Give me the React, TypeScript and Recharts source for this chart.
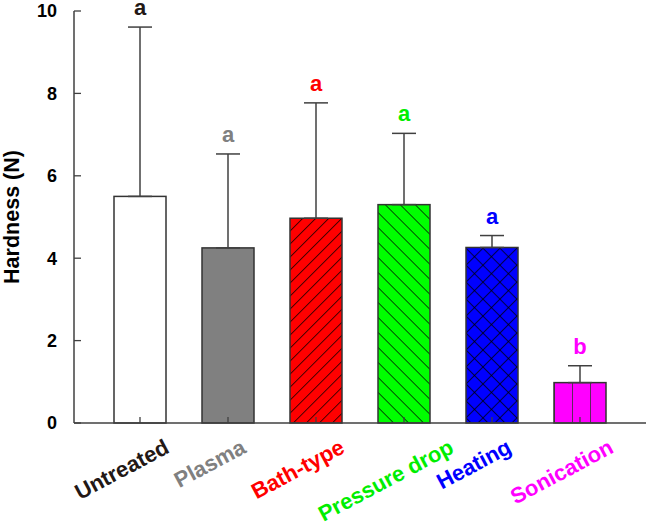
import { ComposedChart, Bar, Line, XAxis, YAxis, ErrorBar, LabelList } from "recharts";

const categories = ["Untreated", "Plasma", "Bath-type", "Pressure drop", "Heating", "Sonication"];
const hardness = [5.5, 4.25, 4.97, 5.3, 4.26, 0.98];
const stdDev = [4.11, 2.28, 2.8, 1.73, 0.29, 0.41];
const letters = ["a", "a", "a", "a", "a", "b"];
const labelColors = ["#231815", "#808080", "#ff0000", "#00ee00", "#0000ff", "#ff00ff"];
const barFills = ["#ffffff", "#808080", "#ff0000", "#00ff00", "#0000ff", "#ff00ff"];
const hatches = ["none", "none", "fwd", "back", "cross", "vert"];
const yTicks = [0, 2, 4, 6, 8, 10];

const FONT = "'Liberation Sans', Arial, sans-serif";
const AXIS = "#404040";

// Arial Bold advance widths (1/1000 em), used to centre the rotated tick labels
const charWidths: Record<string, number> = {
  " ": 278, "-": 333, P: 667, B: 722, U: 722, H: 722, S: 667, a: 556, c: 556, d: 611,
  e: 556, g: 611, h: 611, i: 278, l: 278, m: 889, n: 611, o: 611, p: 611, r: 389,
  s: 556, t: 333, u: 611, y: 556,
};
const textWidth = (s: string, size: number) =>
  (s.split("").reduce((sum, ch) => sum + (charWidths[ch] ?? 556), 0) / 1000) * size;

const data = categories.map((name, i) => ({
  name,
  hardness: hardness[i],
  err: [0, stdDev[i]],
  top: hardness[i] + stdDev[i],
  letter: letters[i],
}));

function HatchBar(props: any) {
  const { x, y, width, height, index } = props;
  const kind = hatches[index];
  const id = `hatch-${index}`;
  let pattern = null;
  if (kind === "fwd" || kind === "back") {
    const s = kind === "fwd" ? 9.2 : 10.6;
    pattern = (
      <pattern id={id} patternUnits="userSpaceOnUse" width={s} height={s}
        patternTransform={`rotate(${kind === "fwd" ? 45 : -45})`}>
        <line x1={0} y1={0} x2={0} y2={s} stroke="#000" strokeWidth={1.4} />
      </pattern>
    );
  } else if (kind === "cross") {
    pattern = (
      <pattern id={id} patternUnits="userSpaceOnUse" width={12} height={12}
        patternTransform={`translate(${x},${y}) rotate(45)`}>
        <line x1={0} y1={0} x2={0} y2={12} stroke="#000" strokeWidth={1.4} />
        <line x1={0} y1={0} x2={12} y2={0} stroke="#000" strokeWidth={1.4} />
      </pattern>
    );
  } else if (kind === "vert") {
    pattern = (
      <pattern id={id} patternUnits="userSpaceOnUse" width={18} height={18}
        patternTransform={`translate(${x},0)`}>
        <line x1={0} y1={0} x2={0} y2={18} stroke="#333" strokeWidth={1.6} />
      </pattern>
    );
  }
  return (
    <g>
      {pattern && <defs>{pattern}</defs>}
      <rect x={x} y={y} width={width} height={height} fill={barFills[index]} />
      {pattern && <rect x={x} y={y} width={width} height={height} fill={`url(#${id})`} />}
      <rect x={x} y={y} width={width} height={height} fill="none" stroke="#333" strokeWidth={1.5} />
    </g>
  );
}

function XTick(props: any) {
  const { x, y, payload, index } = props;
  const size = 22;
  const angle = 28;
  const rad = (angle * Math.PI) / 180;
  const len = textWidth(String(payload.value), size);
  const ascent = 0.72 * size;
  // rotated box: horizontally centred a little left of the tick, top 15px below the axis
  const tx = x - 11 - (ascent * Math.sin(rad)) / 2;
  const ty = y + 15 + (len / 2) * Math.sin(rad) + ascent * Math.cos(rad);
  return (
    <g>
      <line x1={x} y1={y} x2={x} y2={y - 6} stroke={AXIS} strokeWidth={1.3} />
      <text x={tx} y={ty} textAnchor="middle" fontFamily={FONT} fontWeight="bold" fontSize={size}
        fill={labelColors[index]} transform={`rotate(-${angle}, ${tx}, ${ty})`}>
        {payload.value}
      </text>
    </g>
  );
}

function YTick(props: any) {
  const { x, y, payload } = props;
  return (
    <g>
      <line x1={x} y1={y} x2={x + 7} y2={y} stroke={AXIS} strokeWidth={1.3} />
      <text x={x - 17} y={y} dy="0.36em" textAnchor="end" fontFamily={FONT} fontWeight="bold"
        fontSize={18} fill="#000">
        {payload.value}
      </text>
    </g>
  );
}

function LetterLabel(props: any) {
  const { x, y, index, value } = props;
  return (
    <text x={x} y={y - 12} textAnchor="middle" fontFamily={FONT} fontWeight="bold" fontSize={22}
      fill={labelColors[index]}>
      {value}
    </text>
  );
}

export default function App() {
  return (
    <div style={{ width: 647, height: 525, background: "#fff" }}>
      <style>{`body{margin:0}`}</style>
      <ComposedChart width={647} height={525} data={data}
        margin={{ top: 11, right: 1, left: 0, bottom: 0 }}>
        <XAxis dataKey="name" height={102} padding={{ left: 22, right: 22 }}
          tickSize={0} tickMargin={0} tick={<XTick />} interval={0}
          axisLine={{ stroke: AXIS, strokeWidth: 1.5 }} tickLine={false} />
        <YAxis width={74} domain={[0, 10]} ticks={yTicks} tickSize={0} tickMargin={0}
          tick={<YTick />} tickLine={false} axisLine={{ stroke: AXIS, strokeWidth: 1.5 }}
          label={{
            content: (p: any) => {
              const vb = p.viewBox;
              const cx = vb.x + 11;
              const cy = vb.y + vb.height / 2;
              return (
                <text x={cx} y={cy} dy="0.36em" textAnchor="middle" fontFamily={FONT}
                  fontWeight="bold" fontSize={21.5} fill="#000" transform={`rotate(-90, ${cx}, ${cy})`}>
                  Hardness (N)
                </text>
              );
            },
          }} />
        <Bar dataKey="hardness" barSize={52} shape={<HatchBar />} isAnimationActive={false}>
          <ErrorBar dataKey="err" width={12} stroke={AXIS} strokeWidth={1.5} direction="y" />
        </Bar>
        <Line dataKey="top" stroke="transparent" dot={false} activeDot={false}
          isAnimationActive={false} legendType="none">
          <LabelList dataKey="letter" content={<LetterLabel />} />
        </Line>
      </ComposedChart>
    </div>
  );
}
